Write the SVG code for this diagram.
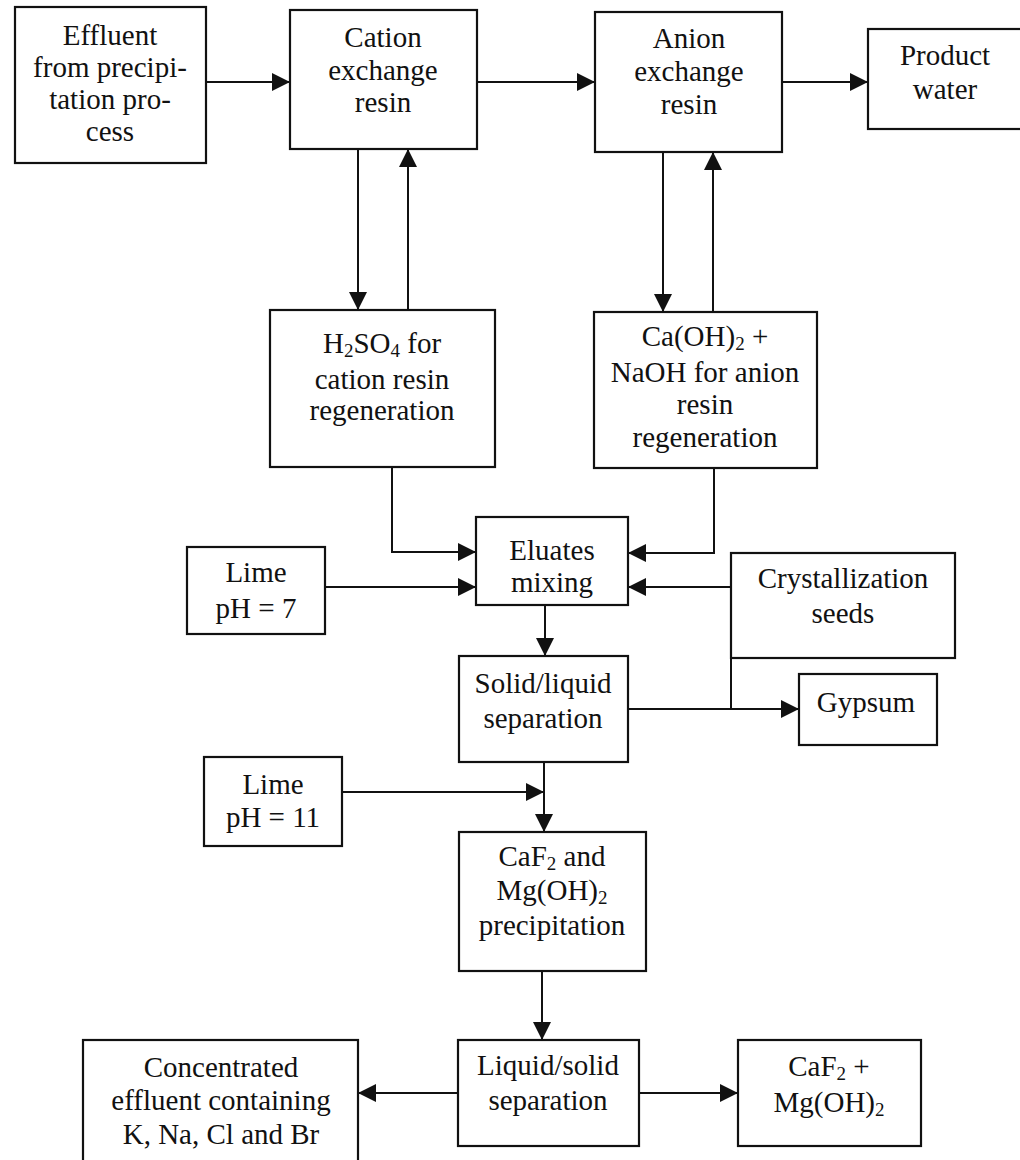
<svg xmlns="http://www.w3.org/2000/svg" width="1020" height="1160" viewBox="0 0 1020 1160">
<style>
.box{fill:#fff;stroke:#111;stroke-width:2.2}
.t{font-family:"Liberation Serif","Times New Roman",serif;font-size:29px;fill:#111;text-anchor:middle}
.s{font-size:19px}
.c{fill:none;stroke:#111;stroke-width:2}
</style>
<defs>
<marker id="ah" markerUnits="userSpaceOnUse" markerWidth="19" markerHeight="18" refX="18" refY="9" orient="auto">
<path d="M0,0 L18,9 L0,18 z" fill="#111"/>
</marker>
</defs>
<rect width="1020" height="1160" fill="#fff"/>
<g id="connectors">
<path class="c" d="M206,82 H290" marker-end="url(#ah)"/>
<path class="c" d="M477,82 H595" marker-end="url(#ah)"/>
<path class="c" d="M782,82 H868" marker-end="url(#ah)"/>
<path class="c" d="M358,149 V310" marker-end="url(#ah)"/>
<path class="c" d="M408,310 V149" marker-end="url(#ah)"/>
<path class="c" d="M663,152 V312" marker-end="url(#ah)"/>
<path class="c" d="M713,312 V152" marker-end="url(#ah)"/>
<path class="c" d="M392,467 V552 H476" marker-end="url(#ah)"/>
<path class="c" d="M714,468 V553 H628" marker-end="url(#ah)"/>
<path class="c" d="M325,587 H476" marker-end="url(#ah)"/>
<path class="c" d="M731,587 H628" marker-end="url(#ah)"/>
<path class="c" d="M545,605 V656" marker-end="url(#ah)"/>
<path class="c" d="M628,709 H799" marker-end="url(#ah)"/>
<path class="c" d="M731,658 V709"/>
<path class="c" d="M342,792 H544" marker-end="url(#ah)"/>
<path class="c" d="M544,762 V832" marker-end="url(#ah)"/>
<path class="c" d="M542,971 V1040" marker-end="url(#ah)"/>
<path class="c" d="M458,1093 H358" marker-end="url(#ah)"/>
<path class="c" d="M639,1093 H738" marker-end="url(#ah)"/>
</g>
<g id="effluent">
<rect class="box" x="15" y="7" width="191" height="156"/>
<text class="t" x="110" y="45">Effluent</text>
<text class="t" x="110" y="77">from precipi-</text>
<text class="t" x="110" y="109">tation pro-</text>
<text class="t" x="110" y="141">cess</text>
</g>
<g id="cation">
<rect class="box" x="290" y="10" width="187" height="139"/>
<text class="t" x="383" y="47">Cation</text>
<text class="t" x="383" y="80">exchange</text>
<text class="t" x="383" y="112">resin</text>
</g>
<g id="anion">
<rect class="box" x="595" y="12" width="187" height="140"/>
<text class="t" x="689" y="48">Anion</text>
<text class="t" x="689" y="81">exchange</text>
<text class="t" x="689" y="114">resin</text>
</g>
<g id="product">
<rect class="box" x="868" y="29" width="160" height="100"/>
<text class="t" x="945" y="65">Product</text>
<text class="t" x="945" y="99">water</text>
</g>
<g id="h2so4">
<rect class="box" x="270" y="310" width="225" height="157"/>
<text class="t" x="382" y="353">H<tspan class="s" dy="4">2</tspan><tspan dy="-4">SO</tspan><tspan class="s" dy="4">4</tspan><tspan dy="-4"> for</tspan></text>
<text class="t" x="382" y="389">cation resin</text>
<text class="t" x="382" y="420">regeneration</text>
</g>
<g id="caoh">
<rect class="box" x="594" y="312" width="223" height="156"/>
<text class="t" x="705" y="346">Ca(OH)<tspan class="s" dy="4">2</tspan><tspan dy="-4"> +</tspan></text>
<text class="t" x="705" y="382">NaOH for anion</text>
<text class="t" x="705" y="414">resin</text>
<text class="t" x="705" y="447">regeneration</text>
</g>
<g id="eluates">
<rect class="box" x="476" y="517" width="152" height="88"/>
<text class="t" x="552" y="560">Eluates</text>
<text class="t" x="552" y="592">mixing</text>
</g>
<g id="lime7">
<rect class="box" x="187" y="547" width="138" height="87"/>
<text class="t" x="256" y="582">Lime</text>
<text class="t" x="256" y="618">pH = 7</text>
</g>
<g id="seeds">
<rect class="box" x="731" y="553" width="224" height="105"/>
<text class="t" x="843" y="588">Crystallization</text>
<text class="t" x="843" y="623">seeds</text>
</g>
<g id="solidliquid">
<rect class="box" x="459" y="656" width="169" height="106"/>
<text class="t" x="543" y="693">Solid/liquid</text>
<text class="t" x="543" y="728">separation</text>
</g>
<g id="gypsum">
<rect class="box" x="799" y="674" width="138" height="71"/>
<text class="t" x="866" y="712">Gypsum</text>
</g>
<g id="lime11">
<rect class="box" x="204" y="757" width="138" height="89"/>
<text class="t" x="273" y="794">Lime</text>
<text class="t" x="273" y="827">pH = 11</text>
</g>
<g id="precip">
<rect class="box" x="459" y="832" width="187" height="139"/>
<text class="t" x="552" y="866">CaF<tspan class="s" dy="4">2</tspan><tspan dy="-4"> and</tspan></text>
<text class="t" x="552" y="900">Mg(OH)<tspan class="s" dy="4">2</tspan></text>
<text class="t" x="552" y="935">precipitation</text>
</g>
<g id="liquidsolid">
<rect class="box" x="458" y="1040" width="181" height="106"/>
<text class="t" x="548" y="1075">Liquid/solid</text>
<text class="t" x="548" y="1110">separation</text>
</g>
<g id="concentrated">
<rect class="box" x="83" y="1040" width="275" height="130"/>
<text class="t" x="221" y="1077">Concentrated</text>
<text class="t" x="221" y="1110">effluent containing</text>
<text class="t" x="221" y="1144">K, Na, Cl and Br</text>
</g>
<g id="caf2mg">
<rect class="box" x="738" y="1040" width="183" height="106"/>
<text class="t" x="829" y="1076">CaF<tspan class="s" dy="4">2</tspan><tspan dy="-4"> +</tspan></text>
<text class="t" x="829" y="1112">Mg(OH)<tspan class="s" dy="4">2</tspan></text>
</g>
</svg>
